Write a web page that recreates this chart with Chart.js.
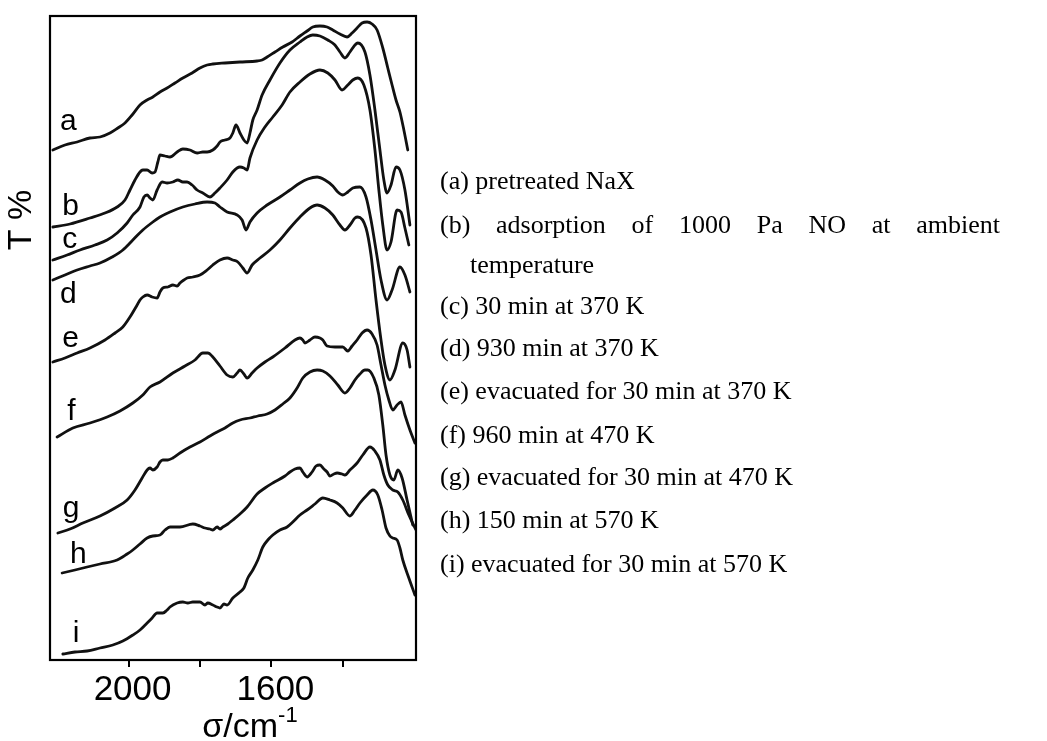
<!DOCTYPE html>
<html>
<head>
<meta charset="utf-8">
<style>
html,body{margin:0;padding:0;background:#fff;}
canvas{display:block;}
</style>
</head>
<body>
<canvas id="c" width="1047" height="741"></canvas>
<script src="https://cdn.jsdelivr.net/npm/chart.js@4/dist/chart.umd.min.js"></script>
<script>
// ---- data: [wavenumber / cm^-1, T (arbitrary offset units)] ----
const seriesA = [[2212,510],[2178,515],[2144,518],[2108,522],[2080,523],[2052,527],[2030,532],[2010,537],[1990,545],[1968,555],[1948,560],[1932,563],[1912,568],[1892,572],[1870,577],[1848,582],[1822,587],[1800,592],[1780,595],[1764,596],[1730,597],[1688,598],[1640,599],[1626,600],[1612,603],[1590,608],[1568,613],[1542,618],[1520,624],[1500,629],[1484,633],[1464,634],[1444,633],[1428,630],[1408,626],[1388,623],[1374,627],[1360,632],[1346,637],[1332,638],[1318,636],[1304,630],[1288,612],[1274,592],[1262,575],[1251,560],[1240,548],[1229,530],[1218,510]];
const seriesB = [[2212,433],[2164,436],[2108,442],[2066,447],[2032,453],[2010,460],[1996,470],[1982,480],[1968,488],[1960,490],[1948,490],[1934,487],[1926,488],[1918,498],[1912,505],[1898,504],[1884,503],[1864,508],[1848,511],[1828,510],[1808,507],[1792,508],[1780,508],[1764,510],[1752,514],[1744,518],[1730,520],[1716,522],[1708,527],[1699,535],[1688,527],[1677,520],[1668,517],[1660,527],[1652,540],[1640,550],[1626,565],[1604,580],[1576,597],[1548,610],[1520,618],[1500,623],[1484,625],[1464,624],[1442,620],[1422,615],[1408,608],[1394,602],[1380,608],[1366,615],[1358,617],[1338,608],[1324,585],[1310,550],[1296,510],[1285,480],[1276,467],[1265,475],[1251,493],[1240,490],[1226,470],[1212,435]];
const seriesC = [[2212,400],[2172,405],[2136,410],[2094,415],[2060,420],[2032,427],[2004,437],[1988,445],[1968,453],[1957,463],[1948,465],[1940,462],[1932,460],[1920,470],[1906,478],[1892,477],[1876,478],[1862,480],[1848,478],[1836,478],[1822,475],[1808,470],[1792,467],[1772,463],[1758,467],[1744,472],[1724,480],[1708,488],[1696,492],[1688,493],[1677,492],[1668,490],[1660,502],[1640,520],[1618,533],[1596,543],[1570,555],[1548,568],[1520,578],[1492,586],[1464,590],[1442,587],[1422,580],[1402,570],[1386,575],[1372,580],[1358,582],[1341,575],[1324,550],[1310,510],[1299,470],[1288,435],[1276,410],[1265,418],[1248,450],[1237,448],[1226,432],[1215,415]];
const seriesD = [[2212,380],[2178,385],[2144,390],[2108,394],[2080,397],[2046,403],[2016,410],[1988,420],[1960,430],[1932,438],[1912,443],[1884,448],[1848,453],[1814,456],[1780,458],[1758,457],[1744,453],[1724,448],[1696,445],[1682,440],[1671,430],[1660,438],[1640,447],[1612,455],[1576,463],[1548,470],[1520,477],[1498,481],[1472,483],[1450,480],[1428,474],[1414,468],[1400,465],[1386,468],[1372,472],[1352,473],[1335,463],[1321,440],[1307,410],[1293,380],[1276,360],[1262,370],[1240,393],[1226,385],[1212,368]];
const seriesE = [[2212,298],[2178,302],[2144,307],[2108,312],[2066,320],[2038,327],[2016,333],[1996,343],[1976,355],[1968,360],[1960,363],[1948,365],[1934,363],[1920,362],[1912,368],[1904,372],[1890,373],[1876,375],[1864,374],[1856,377],[1845,380],[1836,382],[1820,383],[1800,385],[1780,390],[1764,395],[1744,400],[1724,402],[1708,400],[1694,398],[1680,392],[1668,387],[1654,395],[1632,402],[1604,410],[1576,420],[1548,432],[1520,443],[1492,452],[1472,455],[1450,452],[1428,445],[1408,435],[1394,430],[1380,435],[1366,442],[1358,443],[1335,432],[1321,405],[1307,360],[1293,320],[1282,295],[1268,280],[1254,290],[1232,317],[1220,310],[1212,293]];
const seriesF = [[2200,223],[2156,232],[2108,237],[2060,243],[2024,249],[1988,257],[1960,265],[1940,273],[1912,278],[1876,287],[1842,294],[1814,300],[1792,307],[1778,307],[1764,303],[1744,294],[1724,285],[1708,283],[1696,287],[1688,290],[1677,286],[1668,282],[1654,287],[1640,292],[1618,298],[1596,303],[1562,312],[1534,320],[1520,322],[1512,320],[1506,317],[1492,320],[1478,323],[1464,322],[1456,320],[1444,314],[1422,313],[1400,313],[1386,309],[1374,314],[1360,320],[1346,327],[1332,330],[1318,326],[1304,315],[1293,295],[1282,275],[1271,260],[1260,250],[1248,255],[1237,258],[1226,245],[1212,230],[1198,217]];
const seriesG = [[2198,127],[2164,131],[2128,137],[2080,144],[2038,152],[2004,160],[1982,170],[1962,182],[1948,190],[1940,192],[1932,190],[1920,193],[1912,198],[1904,200],[1890,200],[1876,202],[1856,207],[1828,213],[1800,218],[1772,224],[1752,228],[1730,232],[1708,237],[1688,240],[1660,242],[1638,244],[1612,246],[1590,250],[1568,256],[1548,262],[1528,272],[1512,282],[1492,288],[1472,290],[1456,289],[1436,284],[1414,275],[1394,267],[1380,272],[1366,280],[1352,286],[1338,290],[1330,290],[1313,282],[1299,265],[1288,235],[1279,205],[1268,185],[1257,180],[1246,190],[1234,182],[1220,160],[1204,135]];
const seriesH = [[2186,87],[2150,90],[2116,93],[2080,96],[2032,100],[2004,106],[1988,110],[1968,116],[1948,122],[1932,124],[1912,125],[1898,130],[1884,133],[1856,133],[1820,136],[1800,134],[1786,132],[1772,131],[1764,130],[1752,133],[1744,131],[1736,133],[1722,136],[1708,140],[1688,146],[1668,153],[1640,166],[1618,172],[1596,177],[1562,184],[1548,188],[1534,191],[1520,192],[1512,188],[1500,183],[1486,188],[1475,194],[1464,195],[1453,191],[1444,188],[1436,184],[1425,186],[1416,187],[1402,186],[1394,185],[1380,190],[1360,197],[1344,205],[1324,213],[1310,209],[1296,200],[1285,185],[1274,175],[1260,170],[1246,168],[1232,160],[1215,145],[1195,130]];
const seriesI = [[2184,6],[2150,8],[2116,9],[2080,12],[2044,15],[2016,19],[1988,25],[1968,30],[1948,37],[1934,42],[1920,47],[1904,47],[1892,50],[1884,53],[1864,57],[1848,58],[1834,57],[1820,58],[1800,58],[1786,55],[1778,57],[1764,55],[1752,53],[1744,52],[1733,56],[1724,55],[1708,62],[1688,68],[1677,72],[1666,82],[1652,90],[1638,100],[1624,113],[1610,120],[1596,125],[1576,130],[1556,133],[1540,138],[1520,145],[1500,150],[1478,156],[1456,162],[1436,160],[1416,157],[1400,152],[1380,144],[1366,150],[1352,157],[1332,165],[1316,170],[1302,165],[1290,150],[1279,132],[1268,124],[1260,122],[1248,120],[1240,112],[1232,100],[1215,82],[1198,65]];

const curveNames = ['a','b','c','d','e','f','g','h','i'];
const allSeries = [seriesA,seriesB,seriesC,seriesD,seriesE,seriesF,seriesG,seriesH,seriesI];
// letter anchors (wavenumber, T) near the left start of each trace
const letterW = [2192,2186,2186,2192,2186,2172,2184,2164,2156];
const letterT = [530,445,412,357,313,240,143,97,18];

const xTickValues = [2000,1800,1600,1400];
const xTickLabels = ['2000','','1600',''];

const legendLines = [
  '(a) pretreated NaX',
  '(b) adsorption of 1000 Pa NO at ambient',
  'temperature',
  '(c) 30 min at 370 K',
  '(d) 930 min at 370 K',
  '(e) evacuated for 30 min at 370 K',
  '(f) 960 min at 470 K',
  '(g) evacuated for 30 min at 470 K',
  '(h) 150 min at 570 K',
  '(i) evacuated for 30 min at 570 K'
];

const SANS = '"Liberation Sans", Arial, Helvetica, sans-serif';
const SERIF = '"Liberation Serif", "Times New Roman", serif';

const overlay = {
  id: 'overlay',
  afterDraw(chart) {
    const {ctx, chartArea: ca} = chart;
    const xs = chart.scales.x, ys = chart.scales.y;
    ctx.save();
    // frame
    ctx.strokeStyle = '#000';
    ctx.lineWidth = 2.2;
    ctx.strokeRect(ca.left, ca.top, ca.right - ca.left, ca.bottom - ca.top);
    // curve letters
    ctx.fillStyle = '#000';
    ctx.font = '30px ' + SANS;
    ctx.textAlign = 'left';
    ctx.textBaseline = 'alphabetic';
    curveNames.forEach((n, k) => {
      ctx.fillText(n, xs.getPixelForValue(letterW[k]), ys.getPixelForValue(letterT[k]));
    });
    // y title
    ctx.save();
    ctx.translate(22, 220);
    ctx.rotate(-Math.PI / 2);
    ctx.font = '34px ' + SANS;
    ctx.textAlign = 'center';
    ctx.textBaseline = 'middle';
    ctx.fillText('T %', 0, 0);
    ctx.restore();
    // x title  σ/cm^-1
    ctx.font = '34px ' + SANS;
    ctx.textAlign = 'left';
    ctx.textBaseline = 'alphabetic';
    const main = 'σ/cm';
    const mw = ctx.measureText(main).width;
    ctx.font = '22px ' + SANS;
    const sup = '-1';
    const sw = ctx.measureText(sup).width;
    const x0 = 250 - (mw + sw) / 2;
    ctx.font = '34px ' + SANS;
    ctx.fillText(main, x0, 737);
    ctx.font = '22px ' + SANS;
    ctx.fillText(sup, x0 + mw, 722);
    // legend text
    ctx.font = '26px ' + SERIF;
    const baselines = [189,233,273,314,356,399,443,485,528,572];
    legendLines.forEach((t, k) => {
      const y = baselines[k];
      if (k === 1) {
        const words = t.split(' ');
        const widths = words.map(w => ctx.measureText(w).width);
        const total = widths.reduce((a, b) => a + b, 0);
        const gap = (1000 - 440 - total) / (words.length - 1);
        let x = 440;
        words.forEach((w, j) => { ctx.fillText(w, x, y); x += widths[j] + gap; });
      } else {
        ctx.fillText(t, k === 2 ? 470 : 440, y);
      }
    });
    ctx.restore();
  }
};

new Chart(document.getElementById('c'), {
  type: 'line',
  data: {
    datasets: allSeries.map((s, k) => ({
      label: curveNames[k],
      data: s.map(([x, y]) => ({x, y})),
      borderColor: '#111',
      borderWidth: 2.8,
      pointRadius: 0,
      fill: false,
      cubicInterpolationMode: 'monotone',
      borderJoinStyle: 'round',
      borderCapStyle: 'round'
    }))
  },
  options: {
    responsive: false,
    animation: false,
    devicePixelRatio: 1,
    layout: {padding: {left: 0, top: 16, right: 631, bottom: 0}},
    plugins: {legend: {display: false}, tooltip: {enabled: false}, title: {display: false}},
    scales: {
      x: {
        type: 'linear', reverse: true, min: 1195, max: 2220,
        afterBuildTicks: s => { s.ticks = xTickValues.map(v => ({value: v})); },
        afterFit: s => { s.height = 81; },
        ticks: {
          autoSkip: false, maxRotation: 0, padding: 2, labelOffset: 4, color: '#000',
          font: {family: SANS, size: 35},
          callback: v => { const i = xTickValues.indexOf(v); return i >= 0 ? xTickLabels[i] : ''; }
        },
        grid: {display: true, drawOnChartArea: false, drawTicks: true, tickLength: 7, color: '#000', lineWidth: 2},
        border: {display: true, color: '#000', width: 2}
      },
      y: {
        min: 0, max: 644,
        afterFit: s => { s.width = 50; },
        ticks: {display: false},
        grid: {display: false, drawTicks: false},
        border: {display: true, color: '#000', width: 2}
      }
    }
  },
  plugins: [overlay]
});
</script>
</body>
</html>
